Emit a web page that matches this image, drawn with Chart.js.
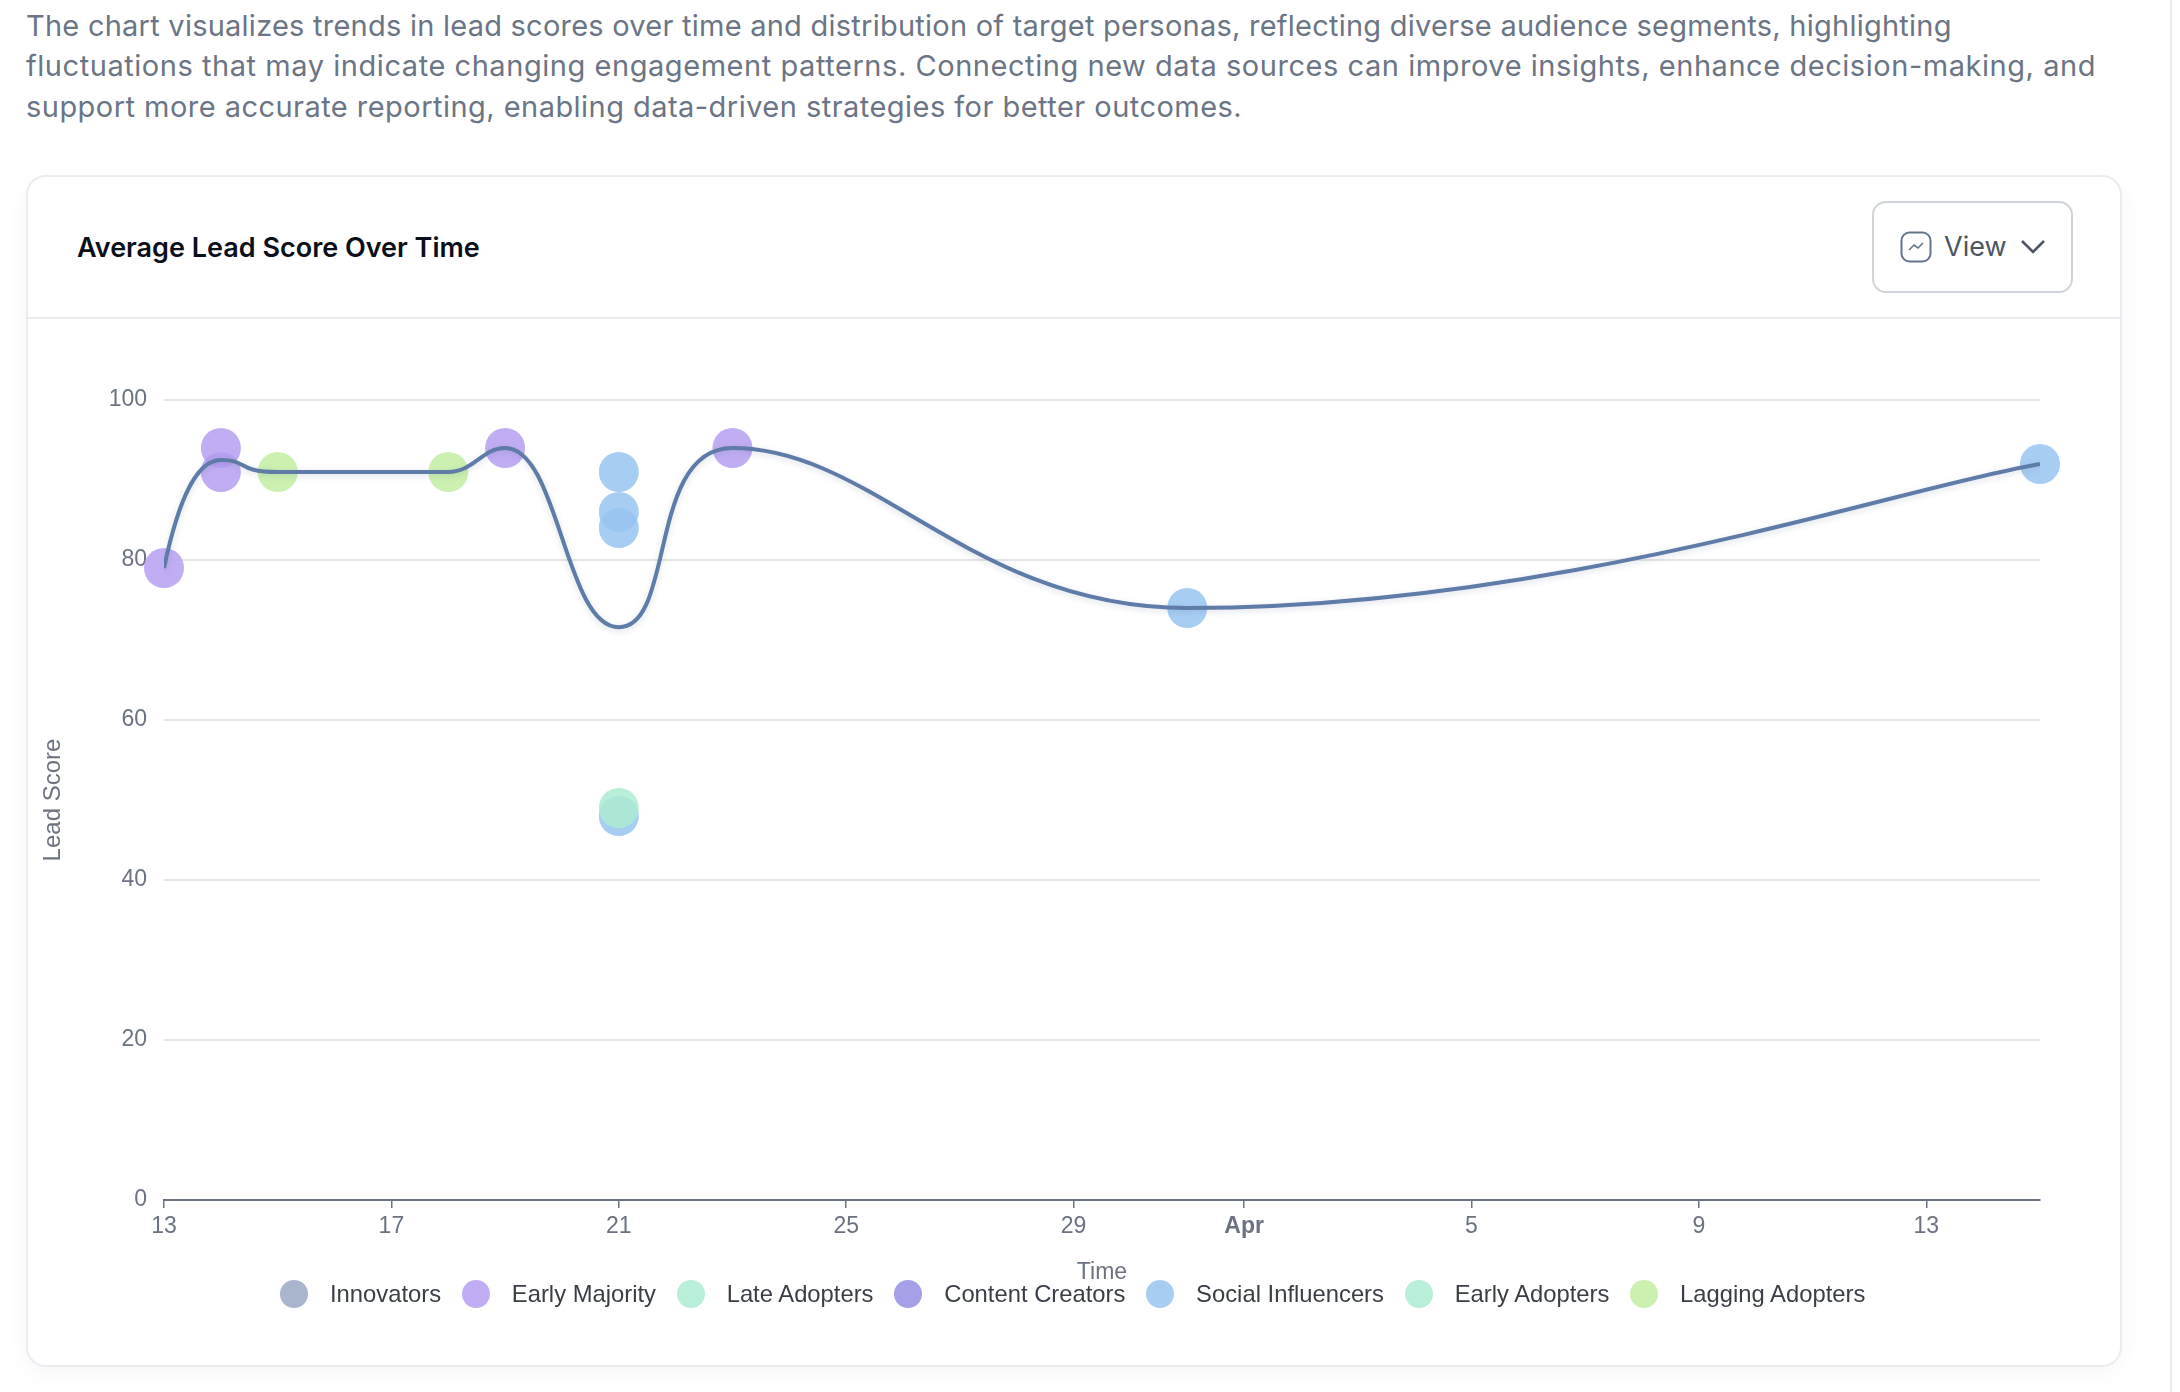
<!DOCTYPE html>
<html lang="en">
<head>
  <meta charset="UTF-8">
  <title>Average Lead Score Over Time</title>
  <script src="https://cdn.jsdelivr.net/npm/chart.js"></script>
  <style>
    html, body { margin: 0; padding: 0; background: #fff; }
    body { position: relative; width: 2180px; height: 1392px; overflow: hidden; font-family: Inter, sans-serif; }
    #edge { position: absolute; left: 2170px; top: 0; width: 2px; height: 1392px; background: #E9ECF0; }
    #summary {
      position: absolute; left: 26px; top: 6px; margin: 0;
      font-size: 29px; line-height: 40.3px; color: #6B7585; white-space: nowrap;
    }
    #card {
      position: absolute; left: 26px; top: 175px; width: 2092px; height: 1188px;
      background: #fff; border: 2px solid #E9ECF0; border-radius: 20px;
      box-shadow: 0 6px 22px rgba(16,24,40,0.04);
    }
    #card-head { position: absolute; left: 0; right: 0; top: 0; height: 140px; border-bottom: 2px solid #E9ECF0; }
    #card-title { position: absolute; left: 49px; top: 53px; font-size: 27px; line-height: 36px; font-weight: 600; color: #0b0f19; white-space: nowrap; }
    #view-btn {
      position: absolute; left: 1844px; top: 24px; width: 197px; height: 88px;
      border: 2px solid #D0D5DB; border-radius: 14px; color: #4B5563; font-size: 27px;
    }
    #view-btn svg { position: absolute; }
    #view-btn span { position: absolute; left: 70px; top: 26px; line-height: 36px; }
    #chart-box { position: absolute; left: 28px; top: 320px; width: 2094px; height: 1040px; }
    #legend { position: absolute; top: 1278px; left: 280px; display: flex; font-family: "Liberation Sans", sans-serif; font-size: 23.8px; line-height: 32px; color: #3A3F47; white-space: nowrap; }
    .item { display: flex; align-items: center; margin-right: 20.7px; }
    .dot { width: 28px; height: 28px; border-radius: 50%; margin-right: 22px; }
  </style>
</head>
<body>
  <div id="edge"></div>
  <p id="summary"><span style="letter-spacing:0.24px">The chart visualizes trends in lead scores over time and distribution of target personas, reflecting diverse audience segments, highlighting</span><br><span style="letter-spacing:0.55px">fluctuations that may indicate changing engagement patterns. Connecting new data sources can improve insights, enhance decision-making, and</span><br><span style="letter-spacing:0.46px">support more accurate reporting, enabling data-driven strategies for better outcomes.</span></p>

  <div id="card">
    <div id="card-head">
      <div id="card-title">Average Lead Score Over Time</div>
      <div id="view-btn">
        <svg style="left:26px;top:28px" width="32" height="32" viewBox="0 0 32 32" fill="none" stroke="#64748B">
          <rect x="1.5" y="1.5" width="29" height="29" rx="8" stroke-width="2"/>
          <path d="M9 19l5-5 4 3 5-5" stroke-width="1.6"/>
        </svg>
        <span>View</span>
        <svg style="left:146px;top:36px" width="26" height="16" viewBox="0 0 26 16" fill="none" stroke="#4B5563" stroke-width="2.6">
          <path d="M2 2l11 11L24 2"/>
        </svg>
      </div>
    </div>
  </div>

  <div id="chart-box"><canvas id="leadChart" width="2094" height="1040"></canvas></div>
  <div id="legend"></div>

  <script>
    // days counted from 13 March
    const tickDays = [0, 4, 8, 12, 16, 19, 23, 27, 31];
    const tickLabels = ['13', '17', '21', '25', '29', 'Apr', '5', '9', '13'];
    const yTicks = [0, 20, 40, 60, 80, 100];

    const averageDays = [0, 1, 2, 5, 6, 8, 10, 18, 33];
    const averageScores = [79, 92.5, 91, 91, 94, 71.6, 94, 74, 92];

    const earlyMajorityDays = [0, 1, 1, 6, 10];
    const earlyMajorityScores = [79, 94, 91, 94, 94];
    const socialDays = [8, 8, 8, 8, 18, 33];
    const socialScores = [91, 86, 84, 48, 74, 92];
    const earlyAdoptersDays = [8];
    const earlyAdoptersScores = [49];
    const laggingDays = [2, 5];
    const laggingScores = [91, 91];

    const personaNames = ['Innovators', 'Early Majority', 'Late Adopters', 'Content Creators', 'Social Influencers', 'Early Adopters', 'Lagging Adopters'];
    const personaColors = ['#A8B5CC', '#C1ADF3', '#B9EED8', '#A5A0E8', '#A8CDF3', '#B9EED8', '#CCF0AF'];

    // curve handle length on each side of a point of the average line, in days
    const handleIn = [0, 0.5, 0.75, 1, 0.4, 0.95, 1.5, 3.8, 2.5];
    const handleOut = [0, 0.5, 1, 0.45, 0.95, 1, 2.5, 6.5, 0];

    function toPoints(days, scores) {
      return days.map((d, i) => ({ x: d, y: scores[i] }));
    }

    function dots(label, color, days, scores, order) {
      return { label, data: toPoints(days, scores), backgroundColor: color, borderWidth: 0, pointRadius: 20, pointHoverRadius: 20, clip: false, order };
    }

    const legendEl = document.getElementById('legend');
    personaNames.forEach((name, i) => {
      const item = document.createElement('div');
      item.className = 'item';
      item.innerHTML = '<span class="dot" style="background:' + personaColors[i] + '"></span>' + name;
      legendEl.appendChild(item);
    });

    // soft shadow under the average line, and curve handles reshaped from what monotone gives
    const lineStyle = {
      id: 'lineStyle',
      afterDatasetsUpdate(chart) {
        const meta = chart.getDatasetMeta(0);
        // control points are computed lazily, force them now so the edits below stay
        meta.dataset.updateControlPoints(chart.chartArea, 'x');
        const pts = meta.data;
        pts.forEach((p, i) => {
          if (i > 0) {
            const k = handleIn[i] / ((averageDays[i] - averageDays[i - 1]) / 3);
            p.cp1x = p.x + (p.cp1x - p.x) * k;
            p.cp1y = p.y + (p.cp1y - p.y) * k;
          }
          if (i < pts.length - 1) {
            const k = handleOut[i] / ((averageDays[i + 1] - averageDays[i]) / 3);
            p.cp2x = p.x + (p.cp2x - p.x) * k;
            p.cp2y = p.y + (p.cp2y - p.y) * k;
          }
        });
        // first segment leaves the start point steeply
        const first = pts[0], next = pts[1];
        first.cp2x = first.x + (next.x - first.x) * 0.2;
        first.cp2y = first.y + (next.y - first.y) * 0.5;
      },
      beforeDatasetDraw(chart, args) {
        if (args.index !== 0) return;
        chart.ctx.save();
        chart.ctx.shadowColor = 'rgba(60,80,120,0.18)';
        chart.ctx.shadowBlur = 6;
        chart.ctx.shadowOffsetY = 2;
      },
      afterDatasetDraw(chart, args) {
        if (args.index === 0) chart.ctx.restore();
      }
    };

    new Chart(document.getElementById('leadChart').getContext('2d'), {
      type: 'scatter',
      plugins: [lineStyle],
      data: {
        datasets: [
          {
            label: 'Average',
            data: toPoints(averageDays, averageScores),
            showLine: true,
            cubicInterpolationMode: 'monotone',
            borderColor: '#5F7BA8',
            borderWidth: 4,
            pointRadius: 0,
            order: 0
          },
          dots('Early Adopters', 'rgba(173,235,209,0.85)', earlyAdoptersDays, earlyAdoptersScores, 1),
          dots('Lagging Adopters', 'rgba(195,237,161,0.85)', laggingDays, laggingScores, 2),
          dots('Social Influencers', 'rgba(153,196,241,0.85)', socialDays, socialScores, 3),
          dots('Early Majority', 'rgba(182,159,241,0.85)', earlyMajorityDays, earlyMajorityScores, 4)
        ]
      },
      options: {
        responsive: false,
        animation: false,
        devicePixelRatio: 1,
        layout: { padding: { left: 0, right: 82, top: 80, bottom: 74 } },
        plugins: { legend: { display: false }, tooltip: { enabled: false } },
        scales: {
          x: {
            type: 'linear',
            min: 0,
            max: 33,
            afterBuildTicks: scale => { scale.ticks = tickDays.map(value => ({ value })); },
            afterFit: scale => { scale.height = 86; },
            grid: { drawOnChartArea: false, drawTicks: true, tickLength: 8, color: '#6B7280', lineWidth: 1.5 },
            border: { color: '#6B7280', width: 2 },
            ticks: {
              autoSkip: false,
              maxRotation: 0,
              padding: 5,
              color: '#6B7280',
              font: ctx => ({ family: '"Liberation Sans", sans-serif', size: 23, weight: ctx.tick && ctx.tick.value === 19 ? 'bold' : 'normal' }),
              callback: value => tickLabels[tickDays.indexOf(value)]
            },
            title: { display: true, text: 'Time', color: '#6B7280', padding: 0, font: { family: '"Liberation Sans", sans-serif', size: 23 } }
          },
          y: {
            min: 0,
            max: 100,
            afterBuildTicks: scale => { scale.ticks = yTicks.map(value => ({ value })); },
            afterFit: scale => { scale.width = 136; },
            grid: { color: '#E6E6E6', lineWidth: 2, drawTicks: false },
            border: { display: false },
            ticks: { padding: 17, color: '#6B7280', font: { family: '"Liberation Sans", sans-serif', size: 23 } },
            title: { display: true, text: 'Lead Score', color: '#6B7280', padding: { top: 11 }, font: { family: '"Liberation Sans", sans-serif', size: 24 } }
          }
        }
      }
    });
  </script>
</body>
</html>
